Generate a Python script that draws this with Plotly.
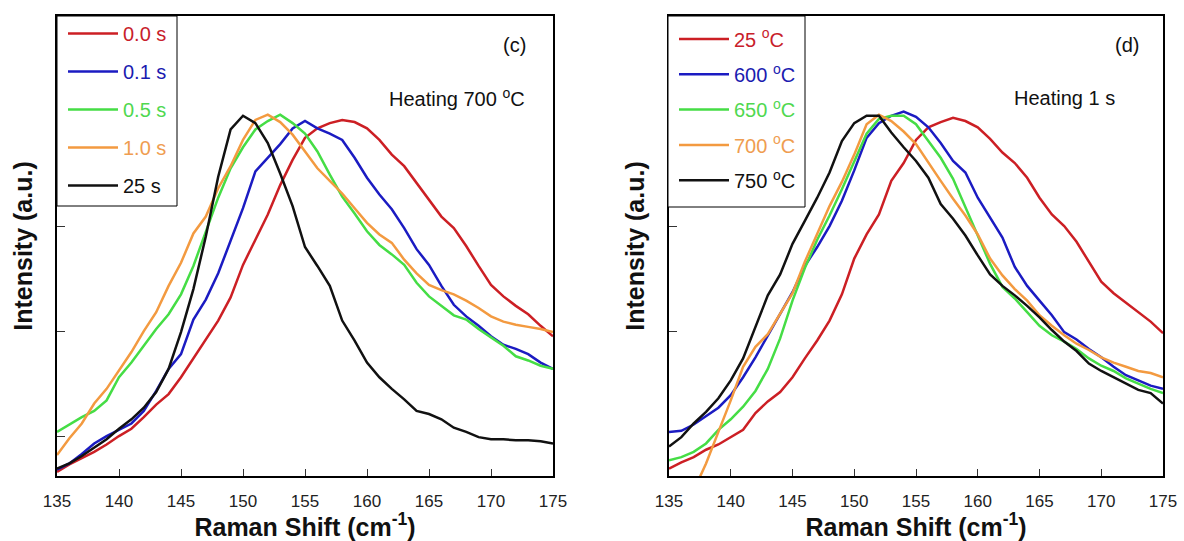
import plotly.graph_objects as go

W, H = 1184, 541
FONT = "Liberation Sans, Arial, Helvetica, sans-serif"

# ---------------- data ----------------
shift = list(range(135, 176))          # Raman shift (cm-1)
shift_700C = list(range(137, 176))     # 700 C curve starts below the axis range

# panel (c): heating 700 C, different heating times
time_labels = ["0.0 s", "0.1 s", "0.5 s", "1.0 s", "25 s"]
int_0s0 = [0.66, 0.73, 0.79, 0.85, 0.92, 1.00, 1.07, 1.18, 1.30, 1.40,
           1.56, 1.74, 1.92, 2.10, 2.32, 2.63, 2.87, 3.11, 3.39, 3.63,
           3.84, 3.93, 3.98, 4.01, 3.99, 3.93, 3.82, 3.68, 3.57, 3.41,
           3.25, 3.09, 2.98, 2.81, 2.62, 2.44, 2.33, 2.24, 2.16, 2.05, 1.95]
int_0s1 = [0.68, 0.74, 0.83, 0.93, 1.00, 1.06, 1.12, 1.24, 1.43, 1.64,
           1.78, 2.11, 2.30, 2.55, 2.87, 3.17, 3.52, 3.65, 3.78, 3.93,
           4.00, 3.93, 3.88, 3.82, 3.65, 3.46, 3.30, 3.16, 2.98, 2.78,
           2.63, 2.43, 2.25, 2.14, 2.05, 1.95, 1.87, 1.83, 1.78, 1.70, 1.64]
int_0s5 = [1.04, 1.11, 1.18, 1.24, 1.34, 1.56, 1.70, 1.86, 2.02, 2.16,
           2.35, 2.62, 2.95, 3.27, 3.55, 3.75, 3.92, 4.00, 4.06, 3.98,
           3.88, 3.71, 3.49, 3.28, 3.12, 2.95, 2.82, 2.73, 2.63, 2.46,
           2.33, 2.24, 2.15, 2.11, 2.02, 1.94, 1.86, 1.76, 1.72, 1.67, 1.64]
int_1s0 = [0.82, 0.98, 1.12, 1.31, 1.45, 1.63, 1.80, 2.00, 2.18, 2.43,
           2.65, 2.93, 3.09, 3.36, 3.57, 3.82, 4.01, 4.06, 3.99, 3.87,
           3.71, 3.55, 3.43, 3.31, 3.17, 3.03, 2.92, 2.84, 2.68, 2.55,
           2.44, 2.39, 2.35, 2.29, 2.22, 2.14, 2.09, 2.06, 2.04, 2.02, 1.99]
int_25s = [0.69, 0.74, 0.81, 0.89, 0.97, 1.07, 1.16, 1.27, 1.42, 1.64,
           1.99, 2.40, 2.90, 3.47, 3.92, 4.05, 3.98, 3.79, 3.50, 3.19,
           2.80, 2.62, 2.43, 2.10, 1.91, 1.70, 1.56, 1.45, 1.35, 1.24,
           1.21, 1.16, 1.08, 1.04, 0.99, 0.97, 0.97, 0.96, 0.96, 0.95, 0.93]

# panel (d): heating 1 s, different temperatures
temp_labels = ["25 <sup>o</sup>C", "600 <sup>o</sup>C", "650 <sup>o</sup>C",
               "700 <sup>o</sup>C", "750 <sup>o</sup>C"]
int_25C = [0.69, 0.75, 0.80, 0.87, 0.92, 0.99, 1.06, 1.22, 1.33, 1.42,
           1.56, 1.74, 1.91, 2.10, 2.35, 2.69, 2.92, 3.11, 3.43, 3.60,
           3.82, 3.94, 3.99, 4.03, 4.00, 3.94, 3.83, 3.70, 3.60, 3.46,
           3.27, 3.11, 3.00, 2.85, 2.66, 2.47, 2.36, 2.27, 2.18, 2.09, 1.98]
int_600C = [1.04, 1.05, 1.11, 1.19, 1.27, 1.39, 1.56, 1.75, 1.96, 2.17,
            2.37, 2.62, 2.80, 3.00, 3.24, 3.53, 3.84, 3.98, 4.05, 4.09,
            4.04, 3.94, 3.79, 3.62, 3.51, 3.27, 3.08, 2.89, 2.61, 2.43,
            2.29, 2.15, 1.99, 1.92, 1.83, 1.75, 1.66, 1.58, 1.53, 1.48, 1.45]
int_650C = [0.77, 0.80, 0.85, 0.93, 1.06, 1.16, 1.28, 1.43, 1.64, 1.93,
            2.29, 2.60, 2.87, 3.10, 3.35, 3.62, 3.88, 4.02, 4.05, 4.05,
            3.97, 3.81, 3.65, 3.45, 3.18, 2.91, 2.64, 2.42, 2.31, 2.18,
            2.05, 1.96, 1.90, 1.83, 1.74, 1.67, 1.62, 1.55, 1.50, 1.45, 1.41]
int_700C = [0.48, 0.74, 1.04, 1.34, 1.66, 1.85, 1.97, 2.16,
            2.36, 2.66, 2.93, 3.19, 3.42, 3.68, 3.97, 4.06, 4.00, 3.90,
            3.78, 3.60, 3.43, 3.26, 3.10, 2.92, 2.69, 2.53, 2.40, 2.29,
            2.15, 2.05, 1.96, 1.88, 1.82, 1.75, 1.70, 1.66, 1.62, 1.60, 1.56]
int_750C = [0.90, 0.99, 1.12, 1.23, 1.36, 1.53, 1.74, 2.04, 2.34, 2.54,
            2.83, 3.05, 3.27, 3.51, 3.81, 3.98, 4.05, 4.05, 3.89, 3.75,
            3.62, 3.46, 3.21, 3.07, 2.91, 2.72, 2.54, 2.43, 2.34, 2.24,
            2.13, 2.01, 1.90, 1.81, 1.69, 1.62, 1.56, 1.50, 1.44, 1.41, 1.31]

x_ticks = [135, 140, 145, 150, 155, 160, 165, 170, 175]

colors = ["#cc1f24", "#1b1bc2", "#45dd45", "#f39a40", "#111111"]
text_colors = ["#c8202a", "#1b1bb0", "#4fd84f", "#ef9d50", "#111111"]

# ---------------- figure ----------------
fig = go.Figure()

left = [(shift, int_0s0), (shift, int_0s1), (shift, int_0s5), (shift, int_1s0), (shift, int_25s)]
right = [(shift, int_25C), (shift, int_600C), (shift, int_650C), (shift_700C, int_700C), (shift, int_750C)]

for i, ((xs, ys), lab) in enumerate(zip(left, time_labels)):
    fig.add_trace(go.Scatter(
        x=xs, y=ys, mode="lines", line=dict(color=colors[i], width=2.5),
        name=f"<span style='color:{text_colors[i]}'>{lab}</span>",
        legendgroup=f"c{i}", legend="legend", xaxis="x", yaxis="y"))

for i, ((xs, ys), lab) in enumerate(zip(right, temp_labels)):
    fig.add_trace(go.Scatter(
        x=xs, y=ys, mode="lines", line=dict(color=colors[i], width=2.5),
        name=f"<span style='color:{text_colors[i]}'>{lab}</span>",
        legendgroup=f"d{i}", legend="legend2", xaxis="x2", yaxis="y2"))

ydom = [1 - 476 / H, 1 - 16 / H]
xdom1 = [57 / W, 553 / W]
xdom2 = [669 / W, 1163 / W]

def xaxis(dom, anchor):
    return dict(domain=dom, anchor=anchor, range=[135, 175], tickvals=x_ticks,
                ticks="inside", ticklen=7, tickwidth=1, tickcolor="#333333",
                showline=True, linecolor="black", linewidth=2, mirror=True,
                showgrid=False, zeroline=False, automargin=False,
                ticklabelstandoff=9,
                tickfont=dict(family=FONT, size=17, color="#222222"),
                title=dict(text="<b>Raman Shift (cm<sup>-1</sup>)</b>",
                           font=dict(family=FONT, size=25, color="#111111"),
                           standoff=5))

def yaxis(dom, anchor, tv):
    return dict(domain=dom, anchor=anchor, range=[0.62, 5.0], tickvals=tv,
                showticklabels=False, ticks="inside", ticklen=8, tickwidth=1,
                tickcolor="#333333", showline=True, linecolor="black",
                linewidth=2, mirror=True, showgrid=False, zeroline=False,
                automargin=False,
                title=dict(text="<b>Intensity (a.u.)</b>",
                           font=dict(family=FONT, size=25, color="#111111"),
                           standoff=15))

def legend(x0, ytop, gap):
    return dict(x=x0, y=1 - ytop / H, xref="paper", yref="paper",
                xanchor="left", yanchor="top", bgcolor="rgba(0,0,0,0)",
                borderwidth=0, itemwidth=50,
                traceorder="grouped", tracegroupgap=gap,
                font=dict(family=FONT, size=20, color="#111111"))

fig.update_layout(
    width=W, height=H, margin=dict(l=0, r=0, t=0, b=0),
    paper_bgcolor="white", plot_bgcolor="white",
    font=dict(family=FONT, color="#111111"),
    xaxis=xaxis(xdom1, "y"), yaxis=yaxis(ydom, "x", [1, 2, 3, 4]),
    xaxis2=xaxis(xdom2, "y2"), yaxis2=yaxis(ydom, "x2", [2, 3, 4]),
    legend=legend(63 / W, 14, 9), legend2=legend(674 / W, 19.5, 6.3),
    showlegend=True,
)

# white legend boxes with thin black border (drawn above the curves)
for x0, x1, y1 in [(57, 177, 206), (668, 805, 207)]:
    fig.add_shape(type="rect", xref="paper", yref="paper",
                  x0=x0 / W, x1=x1 / W, y0=1 - y1 / H, y1=1 - 16 / H,
                  fillcolor="white", line=dict(color="black", width=1),
                  layer="above")

ann_font = dict(family=FONT, size=20, color="#111111")
for text, xr, yr, x, y in [("(c)", "x domain", "y domain", 0.923, 0.937),
                           ("Heating 700 <sup>o</sup>C", "x domain", "y domain", 0.806, 0.822),
                           ("(d)", "x2 domain", "y2 domain", 0.927, 0.937),
                           ("Heating 1 s", "x2 domain", "y2 domain", 0.80, 0.822)]:
    fig.add_annotation(text=text, xref=xr, yref=yr, x=x, y=y, xanchor="center",
                       yanchor="middle", showarrow=False, font=ann_font)

fig.write_html("out.html")
